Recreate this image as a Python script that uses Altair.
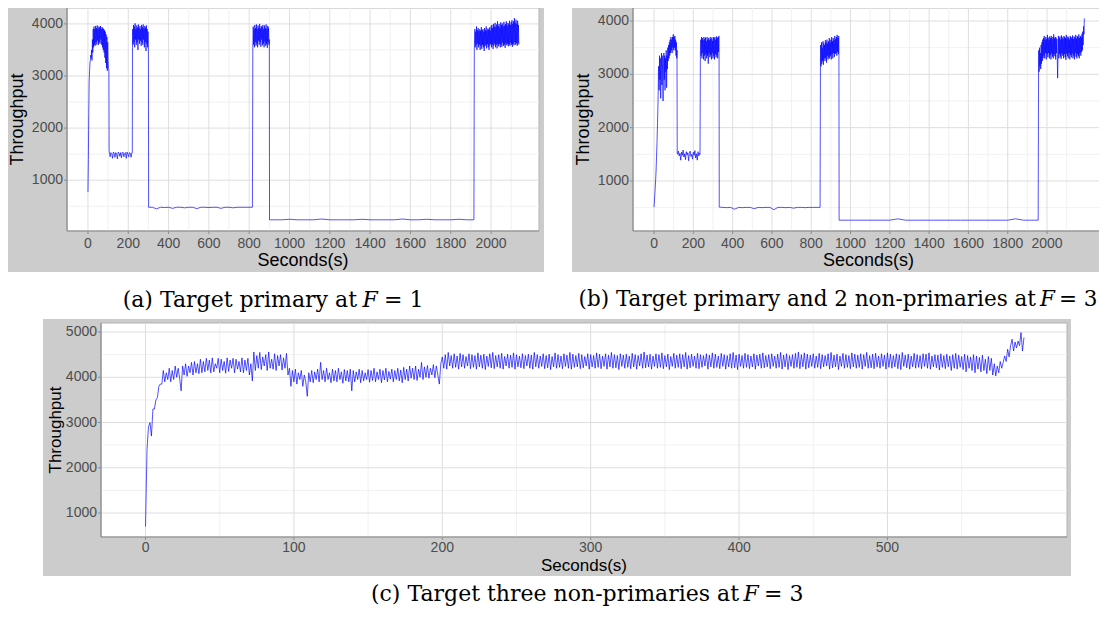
import altair as alt
import pandas as pd

SANS = "Liberation Sans"
SERIF = "DejaVu Serif"
BLUE = "#0000FF"

# ---------------- panel (a): Target primary at F = 1 ----------------
a_rise_t = [0, 2, 4, 6, 8, 10, 12, 14, 16, 18]
a_rise_v = [770, 1400, 2300, 2900, 3100, 3250, 3300, 3400, 3350, 3500]
a_block1 = [3300, 3700, 3450, 3900, 3550, 3950, 3600, 3900, 3580, 3960,
            3650, 3920, 3600, 3970, 3680, 3900, 3600, 3950, 3650, 3930,
            3620, 3960, 3700, 3900, 3600, 3940, 3550, 3920, 3500, 3900,
            3450, 3880, 3350, 3850, 3250, 3800, 3150, 3750, 3100, 3650]
a_flat1 = [1540, 1450, 1530, 1510, 1420, 1540, 1520, 1440, 1530, 1500,
           1410, 1540, 1520, 1460, 1530, 1430, 1520, 1540, 1450, 1510,
           1530, 1420, 1540, 1500, 1450, 1530, 1520, 1440, 1530]
a_block2 = [3900, 3600, 3980, 3650, 3950, 3550, 4010, 3700, 3900, 3600,
            3970, 3650, 3930, 3500, 3990, 3700, 3920, 3620, 3960, 3680,
            3900, 3580, 3980, 3650, 3940, 3600, 3990, 3700, 3910, 3550,
            3960, 3650, 3930, 3480, 3970, 3620, 3900, 3550, 3850]
a_flat2 = [480, 450, 480, 475, 480, 460, 480, 480, 470, 480, 480, 455, 480,
           480, 475, 480, 480, 460, 480, 480, 470, 480, 480, 480, 480]
a_block3 = [3950, 3600, 3900, 3550, 3980, 3650, 3920, 3580, 3990, 3620,
            3900, 3550, 3970, 3680, 3930, 3600, 4000, 3650, 3910, 3560,
            3960, 3700, 3940, 3590, 3980, 3620, 3900, 3550, 3970, 3660,
            3920, 3580, 3990, 3610, 3900, 3540, 3960, 3650, 3930, 3600]
a_flat3 = [240, 240, 250, 240, 240, 240, 255, 240, 240, 240, 240, 250, 240,
           240, 240, 240, 255, 240, 240, 250, 240, 240, 240, 250, 240]
a_block4 = [3700, 3900, 3550, 3850, 3600, 3950, 3500, 3880, 3620, 3920,
            3550, 3860, 3600, 3900, 3500, 3870, 3580, 3940, 3520, 3880,
            3600, 3900, 3550, 3850, 3480, 3920, 3570, 3880, 3600, 3950,
            3530, 3870, 3610, 3910, 3550, 3890, 3500, 3930, 3590, 3870,
            3620, 3950,
            3550, 3980, 3600, 3920, 3520, 4000, 3580, 3950, 3620, 4020,
            3550, 3940, 3600, 3990, 3530, 4050, 3610, 3960, 3570, 4000,
            3620, 3930, 3550, 4030, 3600, 3980, 3560, 4010, 3640, 3950,
            3580, 4040, 3600, 3970, 3540, 4000, 3630, 4050, 3590, 3960,
            3620, 4020, 3570, 3990, 3610, 4060, 3580, 3980, 3640, 4030,
            3600, 4070, 3560, 4000, 3620, 4050, 3590, 4110, 3650, 4020,
            3600, 4080, 3630, 4000, 3580, 4060, 3620, 3980, 3600]

# (start second, sampling step, values)
a_segments = [
    (20, 2, a_block1), (100, 2, [3300, 3150, 3100]), (105, 1, [1560]),
    (106, 4, a_flat1), (220, 1, [1530, 3550]), (222, 2, a_block2),
    (300, 1, [3500, 480]), (320, 20, a_flat2), (816, 2, [480, 3550]),
    (820, 2, a_block3), (900, 1, [3700, 240]), (920, 40, a_flat3),
    (1915, 2, [240, 3500]), (1918, 2, a_block4),
]

# ---------------- panel (b): primary + 2 non-primaries at F = 3 ----------------
b_rise_t = [0, 5, 10, 15, 18, 21, 23]
b_rise_v = [510, 800, 1150, 1700, 2100, 2600, 3150]
b_block1 = [3100, 2700, 3350, 2900, 3300, 2550, 3150, 3400, 2800, 3350,
            3000, 2500, 3200, 3400, 2900, 3350, 2700, 3300, 3050, 3450,
            2750, 3350, 3100, 3500, 3250, 3550, 3300, 3600, 3350, 3650,
            3400, 3700, 3450, 3650, 3400, 3700, 3500, 3750, 3450, 3700,
            3500, 3720, 3450, 3650, 3350, 3600, 3300]
b_flat1 = [1500, 1560, 1470, 1520, 1390, 1540, 1480, 1580, 1450, 1510,
           1400, 1550, 1490, 1530, 1380, 1520, 1560, 1460, 1500, 1410,
           1540, 1480, 1570, 1430, 1510, 1390, 1550, 1470, 1520]
b_block2 = [3650, 3350, 3700, 3300, 3680, 3400, 3640, 3280, 3700, 3350,
            3660, 3250, 3690, 3380, 3620, 3300, 3700, 3350, 3650, 3200,
            3680, 3400, 3640, 3320, 3700, 3360, 3660, 3280, 3690, 3400,
            3630, 3300, 3700, 3350, 3670, 3280, 3700, 3380, 3650, 3320,
            3710, 3360, 3680, 3300, 3700, 3420, 3720]
b_flat2 = [505, 500, 505, 470, 505, 500, 505, 505, 480, 505, 500, 505, 505,
           460, 505, 505, 500, 505, 490, 505, 505, 500, 505, 505, 505]
b_block3 = [3550, 3150, 3600, 3200, 3500, 3250, 3620, 3180, 3580, 3300,
            3550, 3250, 3640, 3300, 3600, 3220, 3650, 3350, 3580, 3280,
            3620, 3320, 3680, 3300, 3600, 3350, 3650, 3280, 3700, 3380,
            3620, 3300, 3680, 3400, 3640, 3330, 3720, 3380, 3660, 3400,
            3700, 3350, 3740, 3420, 3680, 3380, 3720]
b_flat3 = [265, 265, 265, 265, 265, 265, 265, 290, 265, 265, 265, 265, 265,
           265, 265, 265, 265, 265, 265, 265, 265, 265, 290, 265, 265]
b_block4 = [3450, 3050, 3500, 3150, 3400, 3100, 3550, 3200, 3600, 3250,
            3650, 3300,
            3680, 3350, 3720, 3300, 3650, 3400, 3700, 3280, 3660, 3380,
            3740, 3320, 3690, 3400, 3650, 3300, 3710, 3360, 3680, 3280,
            3720, 3390, 3660, 3330, 3700, 3300, 3750, 3380, 3670, 3340,
            3700, 3280, 3690, 3400, 3660, 3320, 2930, 3350, 3720, 3300,
            3680, 3380, 3710, 3330, 3650, 3290, 3730, 3400, 3690, 3350,
            3660, 3300, 3720, 3380, 3700, 3320, 3680, 3270, 3740, 3390,
            3670, 3340, 3710, 3300, 3690, 3400, 3650, 3280, 3720, 3360,
            3700, 3320, 3680, 3390, 3730, 3300, 3660, 3350, 3710, 3280,
            3690, 3400, 3740, 3330, 3670, 3300, 3720, 3380, 3700, 3340,
            3750, 3300, 3680, 3400, 3720, 3350, 3700, 3420, 3760, 3450,
            3800, 3550, 3900, 3750, 4050]

b_segments = [
    (24, 2, b_block1), (117, 1, [3450, 1520]), (120, 4, b_flat1),
    (234, 2, [1500, 3400]), (238, 2, b_block2), (331, 1, [3500, 510]),
    (350, 20, b_flat2), (845, 2, [505, 3250]), (848, 2, b_block3),
    (941, 1, [3500, 265]), (960, 40, b_flat3), (1955, 2, [265, 3100]),
    (1958, 2, b_block4),
]

# ---------------- panel (c): three non-primaries at F = 3 (1 sample / s) ----------------
c_v = [
    700, 2400, 2900, 3000, 2700, 3300, 3300, 3500, 3550, 3800, 3850, 3850, 4150, 3900, 4100, 3950, 4200, 3900, 4150, 3950,
    4250, 4000, 4200, 3980, 3700, 4250, 4050, 4300, 4020, 4250, 4100, 4330, 4050, 4350, 4100, 4300, 4080, 4400, 4100, 4350,
    4120, 4420, 4150, 4380, 4100, 4430, 4120, 4300, 4200, 4420, 4100, 4400, 4150, 4350, 4090, 4430, 4130, 4380, 4200, 4420,
    4100, 4400, 4180, 4350, 4120, 4430, 4100, 4380, 4150, 4420, 4050, 4300, 3920, 4560, 4150, 4480, 4200, 4550, 4170, 4450,
    4250, 4500, 4150, 4560, 4200, 4400, 4180, 4520, 4150, 4480, 4250, 4500, 4160, 4430, 4200, 4530, 4050, 4200, 3800, 4150,
    3900, 4180, 3850, 4100, 3950, 4150, 3800, 4050, 3900, 3580, 4100, 3900, 4150, 3880, 4120, 3950, 4180, 3900, 4330, 3950,
    4150, 3900, 4200, 3950, 4100, 3880, 4180, 3920, 4150, 3900, 4200, 3950, 4120, 3870, 4170, 3920, 4150, 3900, 4180, 3700,
    4150, 3900, 4120, 3950, 4180, 3880, 4150, 3920, 4100, 3950, 4170, 3890, 4150, 3930, 4200, 3900, 4120, 3950, 4180, 3880,
    4150, 3940, 4200, 3900, 4130, 3960, 4180, 3900, 4150, 3950, 4200, 3920, 4160, 3880, 4220, 3950, 4180, 3920, 4250, 3980,
    4200, 3950, 4250, 3930, 4180, 4000, 4330, 3950, 4230, 4000, 4260, 3980, 4200, 4050, 4280, 3990, 4250, 4050, 3850, 4300,
    4450, 4200, 4500, 4180, 4550, 4250, 4480, 4200, 4520, 4220, 4470, 4180, 4530, 4230, 4500, 4200, 4460, 4250, 4520, 4190,
    4500, 4220, 4480, 4180, 4540, 4230, 4490, 4200, 4510, 4170, 4470, 4240, 4520, 4210, 4550, 4190, 4480, 4230, 4500, 4200,
    4530, 4180, 4460, 4250, 4510, 4200, 4490, 4220, 4540, 4180, 4500, 4230, 4470, 4210, 4520, 4190, 4480, 4250, 4510, 4200,
    4490, 4180, 4550, 4230, 4500, 4200, 4470, 4240, 4520, 4190, 4480, 4210, 4510, 4170, 4460, 4230, 4540, 4200, 4500, 4220,
    4470, 4190, 4520, 4240, 4490, 4200, 4550, 4180, 4510, 4220, 4480, 4230, 4530, 4190, 4500, 4210, 4460, 4250, 4520, 4180,
    4500, 4230, 4480, 4200, 4540, 4220, 4510, 4190, 4470, 4240, 4520, 4180, 4490, 4230, 4550, 4200, 4500, 4210, 4480, 4170,
    4520, 4240, 4490, 4200, 4510, 4220, 4470, 4190, 4530, 4230, 4500, 4180, 4480, 4250, 4520, 4200, 4560, 4210, 4490, 4230,
    4510, 4180, 4470, 4240, 4520, 4200, 4500, 4220, 4540, 4190, 4480, 4230, 4510, 4170, 4460, 4240, 4530, 4200, 4490, 4220,
    4520, 4190, 4500, 4230, 4550, 4180, 4480, 4210, 4510, 4240, 4470, 4200, 4530, 4190, 4500, 4220, 4480, 4250, 4520, 4180,
    4490, 4230, 4540, 4200, 4510, 4220, 4470, 4190, 4530, 4240, 4500, 4180, 4480, 4230, 4520, 4200, 4550, 4210, 4490, 4170,
    4510, 4240, 4480, 4200, 4530, 4220, 4500, 4190, 4470, 4230, 4520, 4180, 4490, 4250, 4510, 4200, 4540, 4210, 4480, 4230,
    4500, 4190, 4520, 4240, 4470, 4200, 4510, 4220, 4550, 4180, 4490, 4230, 4520, 4170, 4480, 4240, 4500, 4200, 4530, 4220,
    4560, 4190, 4500, 4230, 4540, 4180, 4510, 4210, 4490, 4240, 4520, 4200, 4470, 4220, 4530, 4190, 4500, 4230, 4480, 4250,
    4520, 4180, 4550, 4210, 4490, 4230, 4510, 4170, 4470, 4240, 4530, 4200, 4500, 4220, 4480, 4190, 4540, 4230, 4510, 4200,
    4490, 4220, 4520, 4180, 4500, 4240, 4550, 4200, 4480, 4210, 4510, 4190, 4530, 4230, 4470, 4200, 4520, 4240, 4490, 4180,
    4540, 4220, 4510, 4200, 4480, 4230, 4520, 4190, 4500, 4170, 4550, 4240, 4490, 4210, 4510, 4180, 4470, 4230, 4530, 4200,
    4500, 4220, 4480, 4190, 4520, 4240, 4510, 4200, 4540, 4180, 4470, 4230, 4500, 4210, 4490, 4160, 4520, 4220, 4480, 4190,
    4510, 4230, 4470, 4150, 4500, 4200, 4530, 4180, 4490, 4220, 4460, 4170, 4510, 4120, 4480, 4200, 4450, 4150, 4500, 4100,
    4470, 4180, 4440, 4120, 4490, 4150, 4400, 4080, 4460, 4150, 4420, 4050, 4300, 4030, 4250, 4100, 4350, 4200, 4330, 4470,
    4350, 4620, 4450, 4700, 4840, 4580, 4780, 4650, 4800, 4700, 4990, 4580, 4880,
]

# tick / grid values
a_xmaj = [0, 200, 400, 600, 800, 1000, 1200, 1400, 1600, 1800, 2000]
a_xmin = [100, 300, 500, 700, 900, 1100, 1300, 1500, 1700, 1900, 2100]
ab_ymaj = [1000, 2000, 3000, 4000]
ab_ymin = [500, 1500, 2500, 3500]
c_xmaj = [0, 100, 200, 300, 400, 500]
c_xmin = [50, 150, 250, 350, 450, 550]
c_ymaj = [1000, 2000, 3000, 4000, 5000]
c_ymin = [1500, 2500, 3500, 4500]


def build(pre_t, pre_v, segments):
    ts, vs = list(pre_t), list(pre_v)
    for start, step, vals in segments:
        for i, v in enumerate(vals):
            ts.append(start + step * i)
            vs.append(v)
    return pd.DataFrame({"t": ts, "v": vs})


df_a = build(a_rise_t, a_rise_v, a_segments)
df_b = build(b_rise_t, b_rise_v, b_segments)
df_c = pd.DataFrame({"t": list(range(len(c_v))), "v": c_v})

ONE = pd.DataFrame({"k": [0]})


def panel(df, w, h, xdom, ydom, xmaj, xmin, ymaj, ymin, gray_ext, cap, lay):
    xs = alt.Scale(domain=xdom, nice=False, zero=False)
    ys = alt.Scale(domain=ydom, nice=False, zero=False)
    gl, gr, gt, gb = gray_ext
    xlab_dy, xtit_dy, ytit_dx, tit_size = lay
    X = lambda f: alt.X(f, scale=xs, axis=None)
    Y = lambda f: alt.Y(f, scale=ys, axis=None)
    dx_maj, dx_min = pd.DataFrame({"g": xmaj}), pd.DataFrame({"g": xmin})
    dy_maj, dy_min = pd.DataFrame({"g": ymaj}), pd.DataFrame({"g": ymin})

    gray = alt.Chart(ONE).mark_rect(color="#CCCCCC").encode(
        x=alt.value(-gl), x2=alt.value(w + gr), y=alt.value(-gt), y2=alt.value(h + gb))
    white = alt.Chart(ONE).mark_rect(fill="white", stroke="#B3B3B3", strokeWidth=1).encode(
        x=alt.value(0), x2=alt.value(w), y=alt.value(0), y2=alt.value(h))
    gxmin = alt.Chart(dx_min).mark_rule(color="#F1F1F1", strokeWidth=1).encode(x=X("g:Q"))
    gymin = alt.Chart(dy_min).mark_rule(color="#F1F1F1", strokeWidth=1).encode(y=Y("g:Q"))
    gxmaj = alt.Chart(dx_maj).mark_rule(color="#DEDEDE", strokeWidth=1).encode(x=X("g:Q"))
    gymaj = alt.Chart(dy_maj).mark_rule(color="#DEDEDE", strokeWidth=1).encode(y=Y("g:Q"))
    line = alt.Chart(df).mark_line(color=BLUE, strokeWidth=0.8, opacity=0.85).encode(
        x=X("t:Q"), y=Y("v:Q"))
    # axis lines (left / bottom)
    dom_l = alt.Chart(ONE).mark_rule(color="#8C8C8C", strokeWidth=1.2).encode(
        x=alt.value(0), y=alt.value(0), y2=alt.value(h))
    dom_b = alt.Chart(ONE).mark_rule(color="#8C8C8C", strokeWidth=1.2).encode(
        x=alt.value(0), x2=alt.value(w), y=alt.value(h))
    tick_x = alt.Chart(dx_maj).mark_rule(color="#8C8C8C", strokeWidth=1).encode(
        x=X("g:Q"), y=alt.value(h), y2=alt.value(h + 3))
    tick_y = alt.Chart(dy_maj).mark_rule(color="#8C8C8C", strokeWidth=1).encode(
        y=Y("g:Q"), x=alt.value(-3), x2=alt.value(0))
    lab_x = alt.Chart(dx_maj).mark_text(font=SANS, fontSize=14, color="#4D4D4D", baseline="middle").encode(
        x=X("g:Q"), y=alt.value(h + xlab_dy), text=alt.Text("g:Q", format="d"))
    lab_y = alt.Chart(dy_maj).mark_text(font=SANS, fontSize=14, color="#4D4D4D", baseline="middle",
                                        align="right").encode(
        y=Y("g:Q"), x=alt.value(-4), text=alt.Text("g:Q", format="d"))
    tit_x = alt.Chart(ONE).mark_text(text="Seconds(s)", font=SANS, fontSize=tit_size, color="black",
                                     baseline="middle").encode(x=alt.value(w / 2), y=alt.value(h + xtit_dy))
    tit_y = alt.Chart(ONE).mark_text(text="Throughput", font=SANS, fontSize=tit_size, color="black",
                                     baseline="middle", angle=270).encode(x=alt.value(ytit_dx), y=alt.value(h / 2))
    (t1, t2, t3), (x1, x2, x3), cy, cfs = cap
    c1 = alt.Chart(ONE).mark_text(text=t1, align="right", baseline="middle", font=SERIF,
                                  fontSize=cfs, color="black").encode(x=alt.value(x1), y=alt.value(cy))
    c2 = alt.Chart(ONE).mark_text(text=t2, align="center", baseline="middle", font=SERIF,
                                  fontSize=cfs, fontStyle="italic", color="black").encode(x=alt.value(x2), y=alt.value(cy))
    c3 = alt.Chart(ONE).mark_text(text=t3, align="left", baseline="middle", font=SERIF,
                                  fontSize=cfs, color="black").encode(x=alt.value(x3), y=alt.value(cy))
    return alt.layer(gray, white, gxmin, gymin, gxmaj, gymaj, line, dom_l, dom_b, tick_x, tick_y,
                     lab_x, lab_y, tit_x, tit_y, c1, c2, c3).properties(width=w, height=h)


pa = panel(df_a, 472, 223, [-104, 2238], [25, 4305], a_xmaj, a_xmin, ab_ymaj, ab_ymin,
           (61, 5, 4, 41), (("(a) Target primary at", "F", "= 1"), (290, 303, 317), 292, 22),
           (12.5, 30, -49, 18))
pb = panel(df_b, 471, 223, [-107, 2290], [62, 4244], a_xmaj, a_xmin, ab_ymaj, ab_ymin,
           (61, 1, 4, 41), (("(b) Target primary and 2 non-primaries at", "F", "= 3"), (403, 414.5, 426), 292, 21.5),
           (12.5, 30, -49, 18))
pc = panel(df_c, 966, 214, [-30, 621], [470, 5200], c_xmaj, c_xmin, c_ymaj, c_ymin,
           (58, 4, 4, 39), (("(c) Target three non-primaries at", "F", "= 3"), (638, 650, 663), 271, 22),
           (11, 29, -45, 17))

top = alt.hconcat(pa, pb, spacing=28)
chart = alt.vconcat(top, pc, spacing=8, center=True).properties(
    padding={"left": -2, "top": -4, "right": -6, "bottom": 3}, background="white",
).configure_view(stroke=None)

chart.save("out.html", embed_options={"renderer": "svg", "actions": False})
